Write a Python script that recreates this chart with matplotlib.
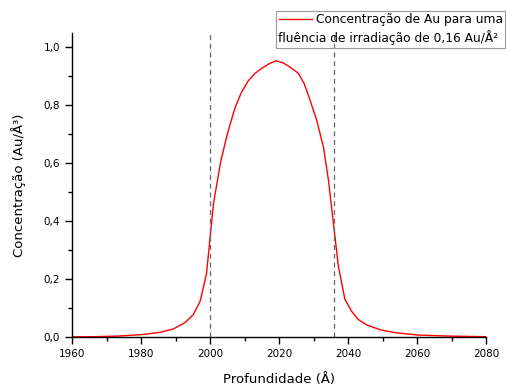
import matplotlib
matplotlib.use('Agg')
import matplotlib.pyplot as plt
from matplotlib.ticker import MultipleLocator, FuncFormatter
from matplotlib.lines import Line2D
from matplotlib.patches import Rectangle

# perfil de concentração de Au em profundidade
profundidade = [1960, 1966, 1973, 1980, 1985.5, 1989.4, 1992.8, 1995.2, 1997.2, 1999.0,
                2001.0, 2003.1, 2005.0, 2007.2, 2009.1, 2011.1, 2013.0, 2015.0, 2017.0,
                2019.1, 2021.0, 2022.2, 2024.0, 2025.6, 2027.3, 2028.8, 2030.9, 2032.9,
                2034.3, 2035.9, 2037.2, 2039.1, 2041.1, 2043.0, 2045.4, 2049.3, 2053.1,
                2060.0, 2069.5, 2080.0]
concentracao = [0.0005, 0.001, 0.003, 0.008, 0.016, 0.028, 0.05, 0.078, 0.125, 0.22,
                0.46, 0.606, 0.70, 0.79, 0.845, 0.885, 0.91, 0.928, 0.943,
                0.954, 0.948, 0.94, 0.925, 0.911, 0.875, 0.825, 0.75, 0.655,
                0.545, 0.38, 0.245, 0.13, 0.088, 0.06, 0.042, 0.025, 0.016,
                0.007, 0.003, 0.001]
limites = [2000, 2036]
legenda = ['Concentração de Au para uma', 'fluência de irradiação de 0,16 Au/Å²']

W, H = 507, 385
fig = plt.figure(figsize=(W / 100, H / 100), dpi=100)
ax = fig.add_axes([72 / W, 1 - 337 / H, (486 - 72) / W, (337 - 33) / H])

ax.plot(profundidade, concentracao, color='red', lw=1.0)
for x in limites:
    ax.axvline(x, color='#666666', ls=(0, (4, 3)), lw=0.9)

ax.set_xlim(1960, 2080)
ax.set_ylim(0, 1.05)
ax.xaxis.set_major_locator(MultipleLocator(20))
ax.xaxis.set_minor_locator(MultipleLocator(10))
ax.yaxis.set_major_locator(MultipleLocator(0.2))
ax.yaxis.set_minor_locator(MultipleLocator(0.1))
ax.yaxis.set_major_formatter(FuncFormatter(lambda v, p: ('%.1f' % v).replace('.', ',')))

for s in ['top', 'right']:
    ax.spines[s].set_visible(False)
for s in ['left', 'bottom']:
    ax.spines[s].set_linewidth(1.0)
ax.tick_params(which='major', direction='out', length=5, width=1, labelsize=7.5)
ax.tick_params(which='minor', direction='out', length=3, width=1)

ax.set_xlabel('Profundidade (Å)', fontsize=9.5, labelpad=10)
ax.set_ylabel('Concentração (Au/Å³)', fontsize=9.5, labelpad=13)

# caixa da legenda desenhada à mão (texto em duas linhas)
fig.patches.append(Rectangle((276 / W, 1 - 48 / H), (505 - 276) / W, 37 / H,
                             transform=fig.transFigure, fill=False,
                             edgecolor='#999999', lw=0.8))
fig.lines.append(Line2D([279 / W, 312 / W], [1 - 19 / H, 1 - 19 / H],
                        transform=fig.transFigure, color='red', lw=1.0))
fig.text(316 / W, 1 - 19 / H, legenda[0], fontsize=8.8, va='center', ha='left')
fig.text(278 / W, 1 - 38 / H, legenda[1], fontsize=8.8, va='center', ha='left')

fig.savefig('out.png', dpi=100)
